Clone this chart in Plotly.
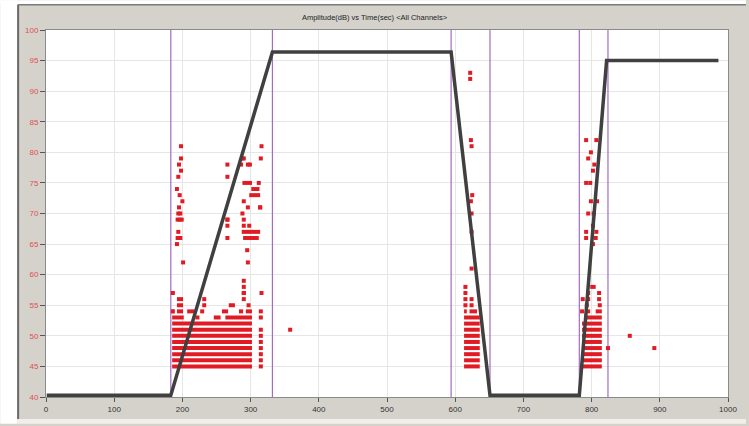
import plotly.graph_objects as go

# ---------------- data ----------------
title_text = "Amplitude(dB) vs Time(sec) <All Channels>"
x_ticks = [0, 100, 200, 300, 400, 500, 600, 700, 800, 900, 1000]
y_ticks = [40, 45, 50, 55, 60, 65, 70, 75, 80, 85, 90, 95, 100]

# parametric (load) curve, black
curve_t = [1, 183, 332, 594, 651, 782, 822, 986]
curve_db = [40.3, 40.3, 96.4, 96.4, 40.3, 40.3, 95.0, 95.0]

# purple marker lines (time)
vline_t = [183, 332, 594, 651, 782, 824]

# dense hit rows: start time, end time, amplitude
seg_t0 = [185, 185, 185, 185, 185, 185, 185, 185,
          185, 219, 246, 263,
          185, 192, 207, 258, 283, 293,
          192, 268,
          192,
          288, 301, 298, 287, 289,
          613, 613, 613, 613, 613, 613, 613, 613, 613,
          613, 621,
          786, 786, 786, 786, 786, 786, 786, 786,
          790, 806, 798]
seg_t1 = [302, 302, 302, 302, 302, 302, 302, 302,
          202, 225, 256, 302,
          188, 201, 218, 267, 289, 302,
          201, 277,
          201,
          302, 313, 314, 314, 312,
          636, 636, 636, 636, 636, 636, 636, 636, 636,
          617, 632,
          815, 815, 815, 815, 815, 815, 815, 815,
          815, 815, 806]
seg_db = [45, 46, 47, 48, 49, 50, 51, 52,
          53, 53, 53, 53,
          54, 54, 54, 54, 54, 54,
          55, 55,
          56,
          75, 74, 73, 67, 66,
          45, 46, 47, 48, 49, 50, 51, 52, 53,
          54, 54,
          45, 46, 47, 48, 49, 50, 51, 52,
          53, 54, 58]

# isolated hits: time, amplitude
hit_t = [
    # cluster 1, left column
    198, 198, 195, 198, 194, 192, 196, 200, 195, 194, 197, 193, 196, 199,
    194, 193, 197, 192, 201,
    # cluster 1, middle
    266, 266, 266, 266, 266, 229, 232, 232, 186, 186,
    # cluster 1, right group
    288, 290, 286, 296, 299, 312, 290, 296, 314, 288, 290, 266, 290, 298,
    295, 296, 290, 290, 290, 290, 297, 290, 316,
    # cluster 1, column near 315
    315, 315, 315, 315, 315, 315, 315, 315, 315, 316, 315, 314,
    # outlier
    358,
    # cluster 2
    615, 624, 615, 624, 615, 615,
    622, 622, 623, 624, 625, 623, 624, 624, 624,
    # cluster 3
    786, 795, 793, 812, 787, 795, 811, 795, 811,
    792, 807, 799, 795, 804, 802, 792, 798, 799, 808, 795, 803, 802,
    792, 807, 792, 806, 802,
    # outliers after cluster 3
    824, 856, 892,
]
hit_db = [
    81, 79, 78, 77, 76, 74, 73, 72, 71, 70, 70, 69, 69, 69,
    67, 66, 66, 65, 62,
    78, 76, 69, 68, 66, 54, 55, 56, 54, 57,
    79, 79, 78, 78, 78, 75, 72, 71, 71, 70, 69, 69, 68, 68,
    64, 62, 59, 58, 57, 56, 55, 57, 57,
    45, 46, 47, 48, 49, 50, 51, 53, 54, 81, 79, 71,
    51,
    55, 55, 56, 56, 57, 58,
    93, 92, 82, 81, 73, 72, 70, 67, 61,
    54, 54, 55, 55, 56, 56, 56, 57, 57,
    82, 82, 80, 79, 78, 77, 75, 75, 72, 72, 70, 70, 68,
    67, 67, 66, 66, 65,
    48, 50, 48,
]

# ---------------- styling / layout ----------------
W, H = 749, 426
ML, MR, MT, MB = 46, 18, 30, 27
PW, PH = W - ML - MR, H - MT - MB

def px(xp):
    return (xp - ML) / PW

def py(yp):
    return (H - MB - yp) / PH

RED = "#e01b24"
PANEL = "#d5d2cc"

fig = go.Figure()

# purple vertical lines
vx, vy = [], []
for t in vline_t:
    vx += [t, t, None]
    vy += [40, 100, None]
fig.add_trace(go.Scatter(x=vx, y=vy, mode="lines",
                         line=dict(color="#a36cc0", width=1.2),
                         hoverinfo="skip", showlegend=False))

# dense rows as thick bars
sx, sy = [], []
for a, b, d in zip(seg_t0, seg_t1, seg_db):
    sx += [a, b, None]
    sy += [d, d, None]
fig.add_trace(go.Scatter(x=sx, y=sy, mode="lines",
                         line=dict(color=RED, width=4),
                         hoverinfo="skip", showlegend=False))

# isolated hits
fig.add_trace(go.Scatter(x=hit_t, y=hit_db, mode="markers",
                         marker=dict(symbol="square", size=4, color=RED,
                                     line=dict(width=0)),
                         showlegend=False))

# load curve
fig.add_trace(go.Scatter(x=curve_t, y=curve_db, mode="lines",
                         line=dict(color="#404040", width=3.5),
                         showlegend=False))

shapes = [
    # white page strips outside the panel
    dict(type="rect", xref="paper", yref="paper", x0=px(0), x1=px(17), y0=py(426), y1=py(0),
         fillcolor="white", line=dict(width=0), layer="above"),
    dict(type="rect", xref="paper", yref="paper", x0=px(0), x1=px(749), y0=py(4), y1=py(0),
         fillcolor="white", line=dict(width=0), layer="above"),
    dict(type="rect", xref="paper", yref="paper", x0=px(17), x1=px(749), y0=py(426), y1=py(421),
         fillcolor="#f0efec", line=dict(width=0), layer="above"),
    # dark panel border lines
    dict(type="line", xref="paper", yref="paper", x0=px(18), x1=px(18), y0=py(421), y1=py(4.5),
         line=dict(color="#6a6a6a", width=2), layer="above"),
    dict(type="line", xref="paper", yref="paper", x0=px(18), x1=px(749), y0=py(4.5), y1=py(4.5),
         line=dict(color="#7a7a7a", width=1.5), layer="above"),
]

font_family = "Liberation Sans, Arial, sans-serif"

fig.update_layout(
    width=W, height=H,
    margin=dict(l=ML, r=MR, t=MT, b=MB, pad=0),
    paper_bgcolor=PANEL,
    plot_bgcolor="white",
    shapes=shapes,
    title=dict(text=title_text, x=0.5, xanchor="center", y=1 - 17 / H, yanchor="middle",
               font=dict(family=font_family, size=7.5, color="#222222")),
    xaxis=dict(range=[0, 1000], tickvals=x_ticks, ticktext=[str(v) for v in x_ticks],
               showgrid=True, gridcolor="#e6e6e6", gridwidth=1, zeroline=False,
               showline=True, linecolor="#8a8a8a", linewidth=1, mirror=True,
               ticks="outside", ticklen=4, tickcolor="#555555",
               tickfont=dict(family=font_family, size=8, color="#333333")),
    yaxis=dict(range=[40, 100], tickvals=y_ticks, ticktext=[str(v) for v in y_ticks],
               showgrid=True, gridcolor="#e6e6e6", gridwidth=1, zeroline=False,
               showline=True, linecolor="#8a8a8a", linewidth=1, mirror=True,
               ticks="outside", ticklen=5, tickcolor="#555555",
               tickfont=dict(family=font_family, size=8, color="#e05050")),
)

fig.write_html("out.html",
               config={"displayModeBar": False},
               post_script="document.body.style.margin='0';document.body.style.padding='0';")
